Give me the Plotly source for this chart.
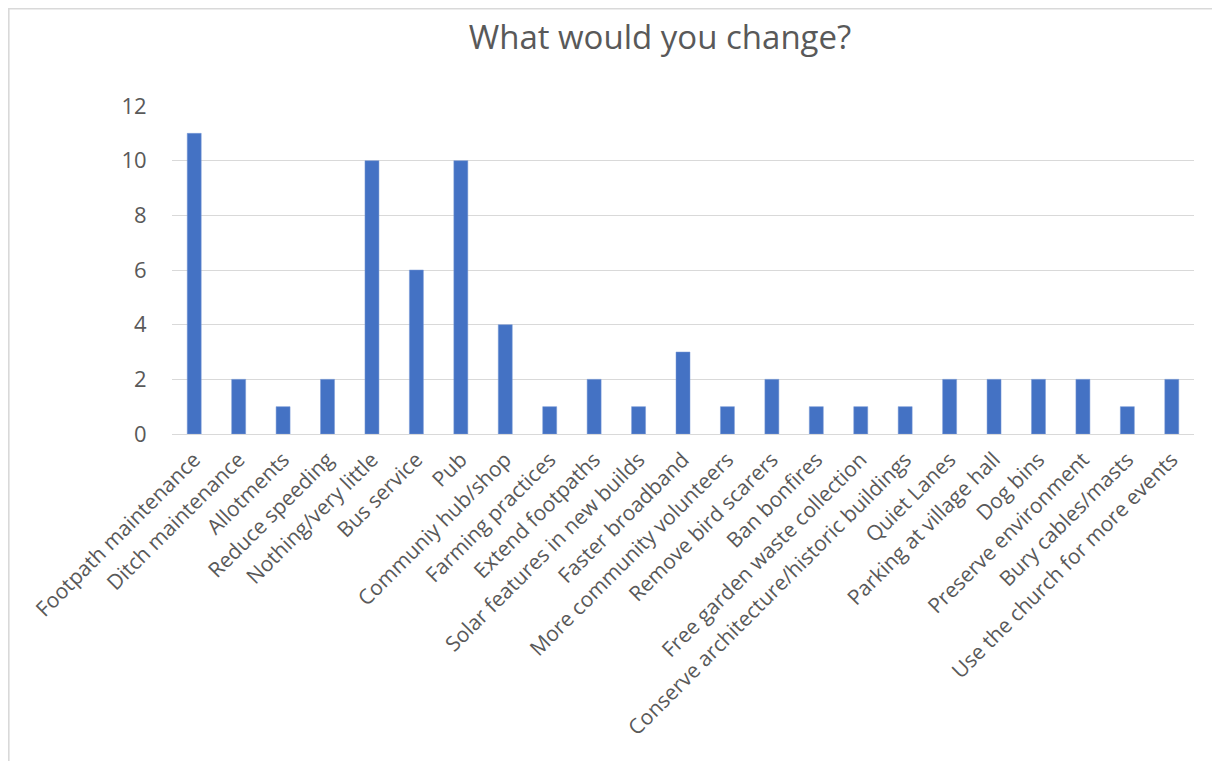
import plotly.graph_objects as go

categories = [
    "Footpath maintenance", "Ditch maintenance", "Allotments", "Reduce speeding",
    "Nothing/very little", "Bus service", "Pub", "Communiy hub/shop",
    "Farming practices", "Extend footpaths", "Solar features in new builds",
    "Faster broadband", "More community volunteers", "Remove bird scarers",
    "Ban bonfires", "Free garden waste collection",
    "Conserve architecture/historic buildings", "Quiet Lanes",
    "Parking at village hall", "Dog bins", "Preserve environment",
    "Bury cables/masts", "Use the church for more events",
]
values = [11, 2, 1, 2, 10, 6, 10, 4, 1, 2, 1, 3, 1, 2, 1, 1, 1, 2, 2, 2, 2, 1, 2]
y_ticks = [0, 2, 4, 6, 8, 10, 12]

OFF = 8  # page body offset
W, H = 1220 - OFF, 761 - OFF
L, T = 172 - OFF, 106 - OFF
R = W - (1194 - OFF)
B = H - (434 - OFF)
pw, ph = W - L - R, H - T - B

fig = go.Figure(go.Bar(
    x=categories, y=values,
    marker=dict(color="#4472C4", line=dict(color="#7a9bd6", width=0.5)),
))

fig.update_layout(
    width=W, height=H,
    margin=dict(l=L, r=R, t=T, b=B),
    paper_bgcolor="white", plot_bgcolor="white",
    bargap=0.685,
    showlegend=False,
    font=dict(family="Open Sans", color="#595959"),
    title=dict(text="What would you change?", x=(660 - OFF) / W, xanchor="center",
               xref="container", y=1 - (37 - OFF) / H, yanchor="middle",
               font=dict(size=33, color="#595959", family="Open Sans")),
    xaxis=dict(tickangle=-45, tickfont=dict(size=21, color="#595959"),
               showgrid=False, showline=False, ticks="outside", ticklen=4,
               tickcolor="white", automargin=False),
    yaxis=dict(range=[0, 12], tickvals=y_ticks, tickfont=dict(size=22, color="#595959"),
               showgrid=True, gridcolor="#d9d9d9", gridwidth=1.3,
               zeroline=True, zerolinecolor="#d9d9d9", zerolinewidth=1.3,
               showline=False, ticks="outside", ticklen=20, tickcolor="white",
               automargin=False),
    shapes=[dict(type="rect", xref="paper", yref="paper",
                 x0=(0.8 - L) / pw, x1=(W + 20 - L) / pw,
                 y0=-(H + 20 - T - ph) / ph, y1=1 + (T - 0.8) / ph,
                 line=dict(color="#d9d9d9", width=1.6), layer="below")],
)

fig.write_html("out.html")
